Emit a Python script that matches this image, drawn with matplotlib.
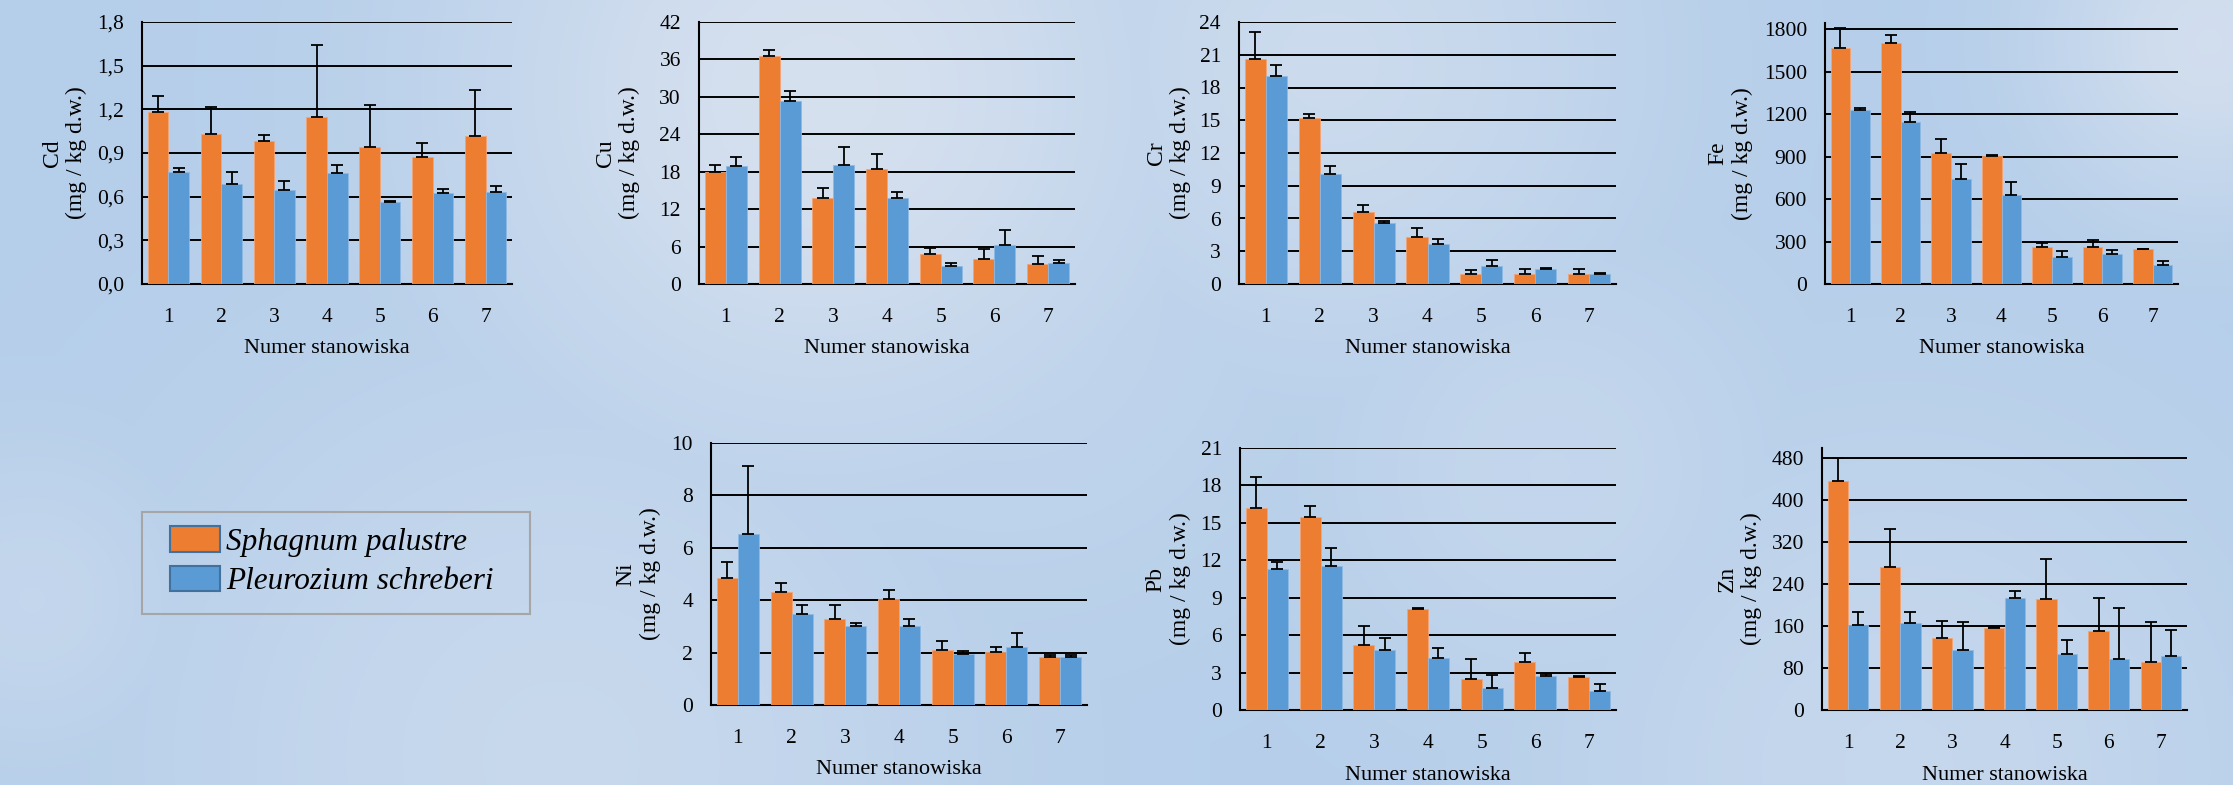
import numpy as np
import matplotlib
matplotlib.use("Agg")
import matplotlib.pyplot as plt
from matplotlib.patches import Patch, Rectangle
from matplotlib.ticker import FuncFormatter

plt.rcParams['font.family'] = ['Liberation Serif', 'DejaVu Serif']

W, H = 2233, 785  # output size, px
DPI = 100

stations = [1, 2, 3, 4, 5, 6, 7]
species = ['Sphagnum palustre', 'Pleurozium schreberi']
xlabel = 'Numer stanowiska'
unit = '(mg / kg d.w.)'

# mean values and (upper) error bars
cd_sp = [1.18, 1.03, 0.985, 1.15, 0.94, 0.87, 1.02]
cd_sp_err = [0.115, 0.185, 0.04, 0.49, 0.29, 0.10, 0.31]
cd_pl = [0.77, 0.69, 0.646, 0.765, 0.561, 0.627, 0.634]
cd_pl_err = [0.028, 0.078, 0.064, 0.055, 0.012, 0.028, 0.037]

cu_sp = [17.98, 36.5, 13.86, 18.46, 4.87, 3.96, 3.26]
cu_sp_err = [1.12, 0.96, 1.6, 2.41, 0.96, 1.71, 1.23]
cu_pl = [18.89, 29.37, 19.05, 13.8, 2.89, 6.21, 3.37]
cu_pl_err = [1.44, 1.61, 2.94, 1.02, 0.48, 2.46, 0.48]

cr_sp = [20.58, 15.18, 6.6, 4.27, 0.92, 0.89, 0.89]
cr_sp_err = [2.5, 0.4, 0.61, 0.86, 0.36, 0.45, 0.45]
cr_pl = [19.08, 10.11, 5.62, 3.63, 1.65, 1.34, 0.95]
cr_pl_err = [0.98, 0.67, 0.15, 0.52, 0.55, 0.1, 0.06]

fe_sp = [1666, 1701, 926, 905, 259, 264, 245]
fe_sp_err = [144, 61, 99, 5, 28, 47, 5]
fe_pl = [1230, 1143, 740, 627, 188, 214, 132]
fe_pl_err = [12, 73, 108, 96, 45, 26, 31]

ni_sp = [4.85, 4.33, 3.3, 4.06, 2.11, 2.01, 1.82]
ni_sp_err = [0.61, 0.31, 0.53, 0.34, 0.33, 0.19, 0.1]
ni_pl = [6.54, 3.46, 3.0, 3.02, 1.96, 2.23, 1.83]
ni_pl_err = [2.57, 0.36, 0.12, 0.25, 0.11, 0.51, 0.09]

pb_sp = [16.16, 15.5, 5.24, 8.12, 2.51, 3.87, 2.67]
pb_sp_err = [2.49, 0.82, 1.52, 0.03, 1.58, 0.67, 0.06]
pb_pl = [11.3, 11.57, 4.84, 4.19, 1.74, 2.75, 1.5]
pb_pl_err = [0.59, 1.39, 0.9, 0.78, 1.04, 0.16, 0.56]

zn_sp = [436, 272, 137, 156, 211, 151, 91]
zn_sp_err = [44, 72, 33, 2, 76, 62, 77]
zn_pl = [161, 166, 114, 213, 106, 98, 103]
zn_pl_err = [25, 20, 53, 13, 28, 96, 49]

ORANGE = '#ED7D31'
BLUE = '#5B9BD5'


def comma(decimals):
    return FuncFormatter(lambda v, p: f"{v:.{decimals}f}".replace('.', ','))


fig = plt.figure(figsize=(W / DPI, H / DPI), dpi=DPI)

# sky-like background
bg = fig.add_axes([0, 0, 1, 1], zorder=-10)
yy, xx = np.mgrid[0:H:4, 0:W:4]
base = np.array([181, 206, 234]) / 255.0
light = np.array([222, 229, 240]) / 255.0
mix = np.zeros_like(xx, dtype=float)
for cx, cy, r, a in [(820, 90, 260, 0.8), (1330, 60, 220, 0.55), (2210, 40, 120, 0.7),
                     (560, 760, 300, 0.45), (1550, 470, 180, 0.35), (1000, 300, 250, 0.3),
                     (1900, 770, 260, 0.4), (30, 600, 120, 0.35)]:
    mix = np.maximum(mix, a * np.exp(-((xx - cx) ** 2 + (yy - cy) ** 2) / (2 * r ** 2)))
img = base[None, None, :] * (1 - mix[..., None]) + light[None, None, :] * mix[..., None]
bg.imshow(img, aspect='auto', extent=[0, 1, 0, 1], interpolation='bilinear')
bg.set_axis_off()


def draw_panel(rect, name, sp, sp_err, pl, pl_err, yticks, ytop, decimals, lab_off):
    x0, x1, y0, y1 = rect
    ax = fig.add_axes([x0 / W, 1 - y1 / H, (x1 - x0) / W, (y1 - y0) / H])
    ax.patch.set_alpha(0)
    x = np.array(stations, dtype=float)
    w = 0.39
    zeros = np.zeros(len(x))
    ax.bar(x - w / 2, sp, w, color=ORANGE, edgecolor='#F2A474', linewidth=0.6, zorder=3)
    ax.bar(x + w / 2, pl, w, color=BLUE, edgecolor='#8DB9E3', linewidth=0.6, zorder=3)
    ax.errorbar(x - w / 2, sp, yerr=[zeros, sp_err], fmt='none', ecolor='black',
                elinewidth=1.3, capsize=4.5, capthick=1.3, zorder=4)
    ax.errorbar(x + w / 2, pl, yerr=[zeros, pl_err], fmt='none', ecolor='black',
                elinewidth=1.3, capsize=4.5, capthick=1.3, zorder=4)
    ax.set_xlim(0.5, 7.5)
    ax.set_ylim(0, ytop)
    ax.set_yticks(yticks)
    ax.set_xticks(stations)
    ax.yaxis.set_major_formatter(comma(decimals))
    ax.yaxis.grid(True, color='black', linewidth=1.4)
    ax.set_axisbelow(True)
    for s in ['top', 'right']:
        ax.spines[s].set_visible(False)
    for s in ['left', 'bottom']:
        ax.spines[s].set_color('black')
        ax.spines[s].set_linewidth(1.5)
    ax.tick_params(axis='both', length=0, labelsize=15.5)
    ax.tick_params(axis='x', pad=17)
    ax.tick_params(axis='y', pad=13)
    wpx, hpx = x1 - x0, y1 - y0
    ax.set_xlabel(xlabel, fontsize=16)
    ax.xaxis.label.set_va('center')
    ax.xaxis.set_label_coords(0.5, -65 / hpx)
    ax.set_ylabel(f"{name}\n{unit}", fontsize=17, linespacing=1.2)
    ax.yaxis.set_label_coords(-lab_off / wpx, 0.5)
    return ax


draw_panel((142, 512, 22, 284), 'Cd', cd_sp, cd_sp_err, cd_pl, cd_pl_err,
           np.arange(0, 1.81, 0.3), 1.8, 1, 55)
draw_panel((699, 1075, 22, 284), 'Cu', cu_sp, cu_sp_err, cu_pl, cu_pl_err,
           np.arange(0, 43, 6), 42, 0, 59)
draw_panel((1239, 1616, 22, 284), 'Cr', cr_sp, cr_sp_err, cr_pl, cr_pl_err,
           np.arange(0, 25, 3), 24, 0, 48)
draw_panel((1825, 2178, 23, 284), 'Fe', fe_sp, fe_sp_err, fe_pl, fe_pl_err,
           np.arange(0, 1801, 300), 1845, 0, 72)
draw_panel((711, 1087, 443, 705), 'Ni', ni_sp, ni_sp_err, ni_pl, ni_pl_err,
           np.arange(0, 11, 2), 10, 0, 50)
draw_panel((1240, 1616, 448, 710), 'Pb', pb_sp, pb_sp_err, pb_pl, pb_pl_err,
           np.arange(0, 22, 3), 21, 0, 49)
draw_panel((1822, 2187, 448, 710), 'Zn', zn_sp, zn_sp_err, zn_pl, zn_pl_err,
           np.arange(0, 481, 80), 499, 0, 60)

# legend with a separate frame box
handles = [Patch(facecolor=ORANGE, edgecolor='#41719C', linewidth=1.5),
           Patch(facecolor=BLUE, edgecolor='#41719C', linewidth=1.5)]
fig.legend(handles, species, loc='upper left', bbox_to_anchor=(170 / W, 1 - 526 / H),
           frameon=False, borderpad=0, borderaxespad=0, handlelength=1.6,
           handleheight=0.9, handletextpad=0.2, labelspacing=0.28,
           prop={'family': 'Liberation Serif', 'style': 'italic', 'size': 22.5})
fig.patches.append(Rectangle((142 / W, 1 - 614 / H), 388 / W, 102 / H, transform=fig.transFigure,
                             fill=False, edgecolor='#A6A6A6', linewidth=1.5))

fig.savefig('out.png', dpi=DPI)
